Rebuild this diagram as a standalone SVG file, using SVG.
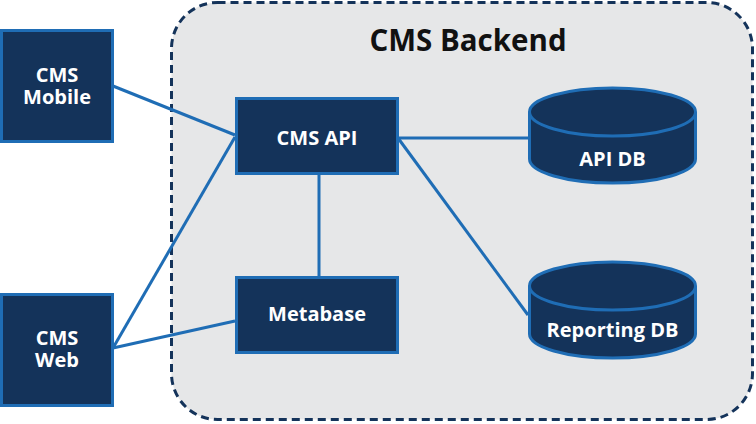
<svg xmlns="http://www.w3.org/2000/svg" width="756" height="424" viewBox="0 0 756 424">
<style>
.box{fill:#14335a;stroke:#1f6db5;stroke-width:3}
.lbl{fill:#fff;font-family:"Open Sans","Liberation Sans",sans-serif;font-weight:700;font-size:20px;text-anchor:middle}
.conn{stroke:#1f6db5;stroke-width:3;fill:none}
</style>
<rect width="756" height="424" fill="#fff"/>
<g id="backend">
<rect x="171.5" y="2.5" width="581" height="417" rx="46" fill="#e6e7e8" stroke="#14335a" stroke-width="3" stroke-dasharray="8,5"/>
<text x="468" y="51" font-family="'Open Sans','Liberation Sans',sans-serif" font-weight="700" font-size="29.5" text-anchor="middle" fill="#111">CMS Backend</text>
</g>
<g id="connectors">
<line class="conn" x1="113" y1="86" x2="235" y2="135"/>
<line class="conn" x1="113" y1="348" x2="235" y2="137"/>
<line class="conn" x1="113" y1="348" x2="235" y2="321"/>
<line class="conn" x1="319" y1="174" x2="319" y2="276"/>
<line class="conn" x1="398" y1="138" x2="528" y2="138"/>
<line class="conn" x1="398" y1="138" x2="528" y2="315"/>
</g>
<g id="cms-mobile">
<rect class="box" x="1.5" y="30.5" width="111" height="111"/>
<text class="lbl" x="57" y="82">CMS<tspan x="57" dy="22">Mobile</tspan></text>
</g>
<g id="cms-web">
<rect class="box" x="1.5" y="294.5" width="111" height="111"/>
<text class="lbl" x="57" y="345">CMS<tspan x="57" dy="22">Web</tspan></text>
</g>
<g id="cms-api">
<rect class="box" x="236.5" y="98.5" width="161" height="75"/>
<text class="lbl" x="317" y="145">CMS API</text>
</g>
<g id="metabase">
<rect class="box" x="236.5" y="277.5" width="161" height="75"/>
<text class="lbl" x="317" y="321">Metabase</text>
</g>
<g id="api-db">
<path class="box" d="M529.5,112 A83,24 0 0 1 695.5,112 L695.5,159 A83,24 0 0 1 529.5,159 Z"/>
<path class="conn" d="M529.5,112 A83,24 0 0 0 695.5,112"/>
<text class="lbl" x="612.5" y="166">API DB</text>
</g>
<g id="reporting-db">
<path class="box" d="M529.5,286 A83,24 0 0 1 695.5,286 L695.5,334 A83,24 0 0 1 529.5,334 Z"/>
<path class="conn" d="M529.5,286 A83,24 0 0 0 695.5,286"/>
<text class="lbl" x="612.5" y="337">Reporting DB</text>
</g>
</svg>
